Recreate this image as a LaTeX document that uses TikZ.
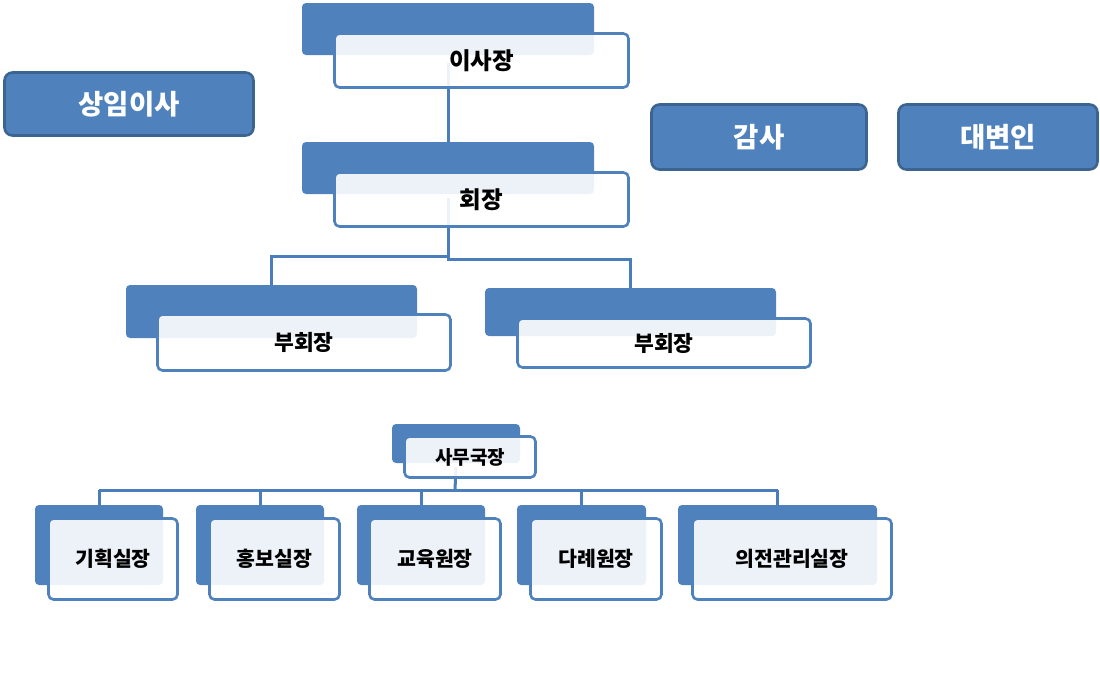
\documentclass[tikz,border=0pt]{standalone}
\usepackage{fontspec}
\newfontfamily\kr{Noto Sans CJK KR}
\usetikzlibrary{positioning}
\pgfdeclarelayer{bg}
\pgfsetlayers{bg,main}
\definecolor{cblue}{HTML}{4F81BD}
\definecolor{cline}{HTML}{4A7EBB}
\definecolor{cdark}{HTML}{3C6491}
\tikzset{
  backbox/.style={fill=cblue, draw=none, rounded corners=4pt, inner sep=0pt},
  frontbox/.style={fill=white, fill opacity=0.9, text opacity=1, draw=cblue, draw opacity=1, line width=2.6pt, rounded corners=5pt, inner sep=0pt, font=\kr\bfseries},
  sidebox/.style={fill=cblue, draw=cdark, line width=2.6pt, rounded corners=8pt, inner sep=0pt, text=white, font=\kr\bfseries\fontsize{27.5}{31}\selectfont},
  conn/.style={draw=cline, line width=3pt},
}
\begin{document}
\begin{tikzpicture}[x=1pt,y=-1pt]
\useasboundingbox (0,0) rectangle (1100,673);
% side boxes
\node[sidebox, minimum width=249, minimum height=63] (s1) at (129,104) {상임이사};
\node[sidebox, minimum width=215, minimum height=65] (s2) at (759,137) {감사};
\node[sidebox, minimum width=199, minimum height=65] (s3) at (998,137) {대변인};
% chairman
\node[backbox, minimum width=292, minimum height=52] (b1) at (448,29) {};
\node[frontbox, minimum width=294, minimum height=54, font=\kr\bfseries\fontsize{23.5}{27}\selectfont] (w1) at (481.5,60.5) {이사장};
\node[backbox, minimum width=292, minimum height=52] (b2) at (448,168) {};
\node[frontbox, minimum width=294, minimum height=54, font=\kr\bfseries\fontsize{23.5}{27}\selectfont] (w2) at (481.5,199.5) {회장};
% vice
\node[backbox, minimum width=291, minimum height=53] (b3) at (271.5,311.5) {};
\node[frontbox, minimum width=293, minimum height=56, font=\kr\bfseries\fontsize{21.5}{25}\selectfont] (w3) at (304,342.5) {부회장};
\node[backbox, minimum width=291, minimum height=48] (b4) at (630.5,312) {};
\node[frontbox, minimum width=293, minimum height=49, font=\kr\bfseries\fontsize{21.5}{25}\selectfont] (w4) at (664,343) {부회장};
% secretary general
\node[backbox, minimum width=128, minimum height=39] (b5) at (456,443.5) {};
\node[frontbox, minimum width=131, minimum height=41, font=\kr\bfseries\fontsize{19}{22}\selectfont] (w5) at (470,457) {사무국장};
% bottom row
\tikzset{bfont/.style={font=\kr\bfseries\fontsize{20.5}{24}\selectfont}}
\node[backbox, minimum width=128, minimum height=80] (c1) at (99,545) {};
\node[frontbox, bfont, minimum width=129, minimum height=81] (d1) at (113,559) {기획실장};
\node[backbox, minimum width=128, minimum height=80] (c2) at (260,545) {};
\node[frontbox, bfont, minimum width=130, minimum height=81] (d2) at (274.5,559) {홍보실장};
\node[backbox, minimum width=128, minimum height=80] (c3) at (421,545) {};
\node[frontbox, bfont, minimum width=131, minimum height=81] (d3) at (435,559) {교육원장};
\node[backbox, minimum width=129, minimum height=80] (c4) at (581.5,545) {};
\node[frontbox, bfont, minimum width=131, minimum height=81] (d4) at (596,559) {다례원장};
\node[backbox, minimum width=199, minimum height=80] (c5) at (777.5,545) {};
\node[frontbox, bfont, minimum width=199, minimum height=81] (d5) at (792,559) {의전관리실장};
% connectors
\coordinate (j1) at (448,256);
\coordinate (j2) at (448,259);
\coordinate (j3) at (455,490);
\begin{pgfonlayer}{bg}
\draw[conn] ([yshift=-8pt]b1.south) -- (b2.north);
\draw[conn] ([yshift=-4pt]b2.south) -- (j2) -- (j2 -| b4.north) -- ([yshift=-3pt]b4.north);
\draw[conn] (j1) -- (j1 -| b3.north) -- ([yshift=-2pt]b3.north);
\draw[conn] ([yshift=-4pt]b5.south) -- (j3);
\draw[conn] (j3 -| c1.north) -- (j3 -| c5.north);
\foreach \c in {c1,c2,c3,c4,c5}{
  \draw[conn] (j3 -| \c.north) -- ([yshift=-4pt]\c.north);
}
\end{pgfonlayer}
\end{tikzpicture}
\end{document}
